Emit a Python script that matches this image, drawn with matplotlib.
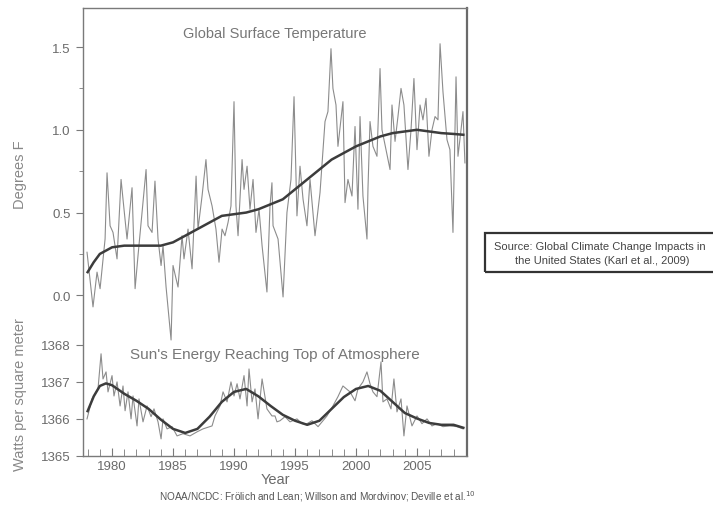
import numpy as np
import matplotlib
matplotlib.use("Agg")
import matplotlib.pyplot as plt
from matplotlib.patches import Rectangle
from matplotlib.ticker import FixedLocator

plt.rcParams['font.family'] = ['Liberation Sans', 'DejaVu Sans']

# Global surface temperature anomaly (deg F)
temp_years = [1977.95, 1978.44, 1978.77, 1979.02, 1979.43, 1979.59, 1979.84, 1980.08,
              1980.41, 1980.74, 1980.90, 1981.23, 1981.64, 1981.89, 1982.13, 1982.79,
              1982.95, 1983.28, 1983.52, 1983.77, 1984.02, 1984.18, 1984.43, 1984.84,
              1985.00, 1985.25, 1985.41, 1985.74, 1985.90, 1986.23, 1986.56, 1986.89,
              1987.05, 1987.38, 1987.70, 1987.87, 1988.20, 1988.52, 1988.77, 1989.02,
              1989.26, 1989.51, 1989.75, 1990.00, 1990.16, 1990.33, 1990.66, 1990.82,
              1991.07, 1991.31, 1991.56, 1991.80, 1992.05, 1992.30, 1992.70, 1992.95,
              1993.11, 1993.20, 1993.61, 1994.02, 1994.34, 1994.67, 1994.92, 1995.16,
              1995.41, 1995.66, 1995.98, 1996.23, 1996.64, 1997.05, 1997.46, 1997.70,
              1997.95, 1998.11, 1998.36, 1998.52, 1998.93, 1999.10, 1999.34, 1999.67,
              1999.92, 2000.16, 2000.33, 2000.57, 2000.90, 2000.98, 2001.15, 2001.39,
              2001.72, 2001.97, 2002.13, 2002.46, 2002.79, 2002.95, 2003.20, 2003.44,
              2003.69, 2003.93, 2004.26, 2004.51, 2004.75, 2005.00, 2005.25, 2005.49,
              2005.74, 2005.98, 2006.23, 2006.48, 2006.72, 2006.89, 2007.13, 2007.46,
              2007.70, 2007.95, 2008.20, 2008.36, 2008.61, 2008.77, 2008.93]
temp_vals = [0.26, -0.07, 0.14, 0.04, 0.34, 0.74, 0.42, 0.38,
             0.22, 0.70, 0.58, 0.34, 0.65, 0.04, 0.24, 0.76,
             0.42, 0.38, 0.69, 0.34, 0.18, 0.30, 0.05, -0.27,
             0.18, 0.10, 0.05, 0.36, 0.22, 0.40, 0.16, 0.72,
             0.40, 0.60, 0.82, 0.64, 0.54, 0.40, 0.20, 0.40,
             0.36, 0.44, 0.54, 1.17, 0.54, 0.36, 0.82, 0.64,
             0.78, 0.52, 0.70, 0.38, 0.52, 0.30, 0.02, 0.54,
             0.68, 0.42, 0.34, -0.01, 0.50, 0.70, 1.20, 0.48,
             0.78, 0.58, 0.42, 0.70, 0.36, 0.62, 1.05, 1.11,
             1.49, 1.25, 1.15, 0.90, 1.17, 0.56, 0.70, 0.60,
             1.02, 0.52, 1.08, 0.60, 0.34, 0.64, 1.05, 0.90,
             0.84, 1.37, 1.00, 0.88, 0.76, 1.15, 0.93, 1.08,
             1.25, 1.15, 0.76, 1.00, 1.31, 0.88, 1.15, 1.06,
             1.19, 0.84, 1.00, 1.08, 1.06, 1.52, 1.23, 0.94,
             0.88, 0.38, 1.32, 0.84, 1.00, 1.11, 0.80]

# smoothed temperature curve
temp_smooth_years = [1978.0, 1978.5, 1979, 1980, 1981, 1982, 1983, 1984, 1985, 1986,
                     1987, 1988, 1989, 1990, 1991, 1992, 1993, 1994, 1995, 1996,
                     1997, 1998, 1999, 2000, 2001, 2002, 2003, 2004, 2005, 2006,
                     2007, 2008, 2008.8]
temp_smooth = [0.14, 0.20, 0.25, 0.29, 0.30, 0.30, 0.30, 0.30, 0.32, 0.36,
               0.40, 0.44, 0.48, 0.49, 0.50, 0.52, 0.55, 0.58, 0.64, 0.70,
               0.76, 0.82, 0.86, 0.90, 0.93, 0.96, 0.98, 0.99, 1.00, 0.99,
               0.98, 0.975, 0.97]

# Sun's energy (W/m^2)
sun_years = [1977.95, 1978.36, 1978.85, 1979.10, 1979.26, 1979.51, 1979.67, 1980.00,
             1980.16, 1980.41, 1980.66, 1980.90, 1981.07, 1981.31, 1981.56, 1981.72,
             1982.05, 1982.21, 1982.54, 1982.87, 1983.20, 1983.44, 1983.77, 1984.02,
             1984.18, 1984.51, 1984.92, 1985.33, 1985.82, 1986.39, 1986.97, 1987.46,
             1988.20, 1988.44, 1988.85, 1989.10, 1989.43, 1989.75, 1990.00, 1990.25,
             1990.49, 1990.82, 1991.07, 1991.23, 1991.48, 1991.72, 1991.97, 1992.30,
             1992.70, 1993.11, 1993.36, 1993.52, 1993.77, 1994.18, 1994.59, 1995.16,
             1995.57, 1995.98, 1996.39, 1996.89, 1997.62, 1998.11, 1998.52, 1998.93,
             1999.51, 1999.92, 2000.16, 2000.57, 2000.90, 2001.15, 2001.39, 2001.72,
             2002.05, 2002.21, 2002.54, 2002.87, 2003.11, 2003.36, 2003.69, 2003.93,
             2004.18, 2004.59, 2005.00, 2005.41, 2005.82, 2006.23, 2006.64, 2007.13,
             2007.70, 2008.28, 2008.77]
sun_vals = [1365.99, 1366.53, 1366.80, 1367.75, 1367.07, 1367.26, 1366.72, 1367.16,
            1366.61, 1366.99, 1366.34, 1366.88, 1366.21, 1366.72, 1365.99, 1366.61,
            1365.80, 1366.53, 1365.91, 1366.34, 1366.05, 1366.26, 1365.91, 1365.45,
            1365.99, 1365.72, 1365.78, 1365.53, 1365.59, 1365.53, 1365.64, 1365.72,
            1365.80, 1366.07, 1366.34, 1366.72, 1366.45, 1366.99, 1366.61, 1366.94,
            1366.53, 1367.16, 1366.34, 1367.34, 1366.45, 1366.80, 1365.99, 1367.07,
            1366.26, 1366.07, 1366.07, 1365.91, 1365.94, 1366.05, 1365.91, 1365.99,
            1365.86, 1365.86, 1365.94, 1365.78, 1366.07, 1366.34, 1366.59, 1366.88,
            1366.72, 1366.48, 1366.80, 1366.99, 1367.26, 1366.94, 1366.72, 1366.59,
            1367.53, 1366.45, 1366.53, 1366.26, 1367.07, 1366.18, 1366.53, 1365.53,
            1366.34, 1365.80, 1366.07, 1365.86, 1365.99, 1365.80, 1365.86, 1365.78,
            1365.80, 1365.78, 1365.72]

sun_smooth_years = [1978.0, 1978.5, 1979, 1979.5, 1980, 1981, 1982, 1983, 1984, 1985,
                    1986, 1987, 1988, 1989, 1990, 1991, 1992, 1993, 1994, 1995,
                    1996, 1997, 1998, 1999, 2000, 2001, 2002, 2003, 2004, 2005,
                    2006, 2007, 2008, 2008.8]
sun_smooth = [1366.2, 1366.6, 1366.88, 1366.95, 1366.9, 1366.67, 1366.48, 1366.26, 1365.97, 1365.72,
              1365.61, 1365.72, 1366.05, 1366.45, 1366.72, 1366.8, 1366.6, 1366.34, 1366.1, 1365.94,
              1365.83, 1365.94, 1366.26, 1366.58, 1366.8, 1366.88, 1366.75, 1366.45, 1366.15, 1366.0,
              1365.88, 1365.83, 1365.83, 1365.75]

year_ticks = [1980, 1985, 1990, 1995, 2000, 2005]
temp_ticks = [0.0, 0.5, 1.0, 1.5]
sun_ticks = [1365, 1366, 1367, 1368]

W, H = 713, 506
fig = plt.figure(figsize=(W / 100, H / 100), dpi=100)
rect = [83 / W, 1 - 456.5 / H, 384 / W, 447.5 / H]

frame_col = '#7a7a7a'
lab_col = '#6a6a6a'

# bottom panel (solar) carries the frame and the year axis
ax_s = fig.add_axes(rect)
ax_s.plot(sun_years, sun_vals, color='#8c8c8c', lw=0.8)
ax_s.plot(sun_smooth_years, sun_smooth, color='#3c3c3c', lw=1.8)
ax_s.set_xlim(1977.62, 2009.1)
ax_s.set_ylim(1365, 1377.1)
ax_s.set_yticks(sun_ticks)
ax_s.set_yticklabels([str(v) for v in sun_ticks])
ax_s.set_xticks(year_ticks)
ax_s.xaxis.set_minor_locator(FixedLocator(np.arange(1978, 2009)))
ax_s.tick_params(axis='x', which='both', direction='in', colors=frame_col,
                 labelcolor=lab_col, labelsize=9.5, pad=3)
ax_s.tick_params(axis='x', which='major', length=6)
ax_s.tick_params(axis='x', which='minor', length=5)
ax_s.tick_params(axis='y', direction='out', length=5, colors=frame_col,
                 labelcolor=lab_col, labelsize=9.5, pad=4)
for side in ['left', 'bottom', 'top']:
    ax_s.spines[side].set_color(frame_col)
    ax_s.spines[side].set_linewidth(1.0)
ax_s.spines['right'].set_color('#6a6a6a')
ax_s.spines['right'].set_linewidth(1.6)
ax_s.set_xlabel('Year', fontsize=10.5, color=lab_col, labelpad=0)

# top panel (temperature), same box
ax_t = fig.add_axes(rect, sharex=ax_s)
ax_t.patch.set_visible(False)
for s in ax_t.spines.values():
    s.set_visible(False)
ax_t.plot(temp_years, temp_vals, color='#8c8c8c', lw=0.8)
ax_t.plot(temp_smooth_years, temp_smooth, color='#3c3c3c', lw=1.8)
ax_t.set_ylim(-0.968, 1.736)
ax_t.set_yticks(temp_ticks)
ax_t.set_yticklabels(['0.0', '0.5', '1.0', '1.5'])
ax_t.yaxis.set_minor_locator(FixedLocator([0.25, 0.75, 1.25]))
ax_t.tick_params(axis='y', which='major', direction='out', length=5, colors=frame_col,
                 labelcolor=lab_col, labelsize=9.5, pad=4)
ax_t.tick_params(axis='y', which='minor', direction='out', length=3, colors=frame_col)
ax_t.tick_params(axis='x', which='both', bottom=False, labelbottom=False)

ax_t.text(0.5, 0.945, 'Global Surface Temperature', transform=ax_t.transAxes,
          ha='center', va='center', fontsize=10.5, color='#777777')
ax_t.text(0.5, 0.227, "Sun's Energy Reaching Top of Atmosphere", transform=ax_t.transAxes,
          ha='center', va='center', fontsize=11, color='#777777')

fig.text(20 / W, 1 - 175 / H, 'Degrees F', rotation=90, ha='center', va='center',
         fontsize=10.5, color='#888888')
fig.text(20 / W, 1 - 395 / H, 'Watts per square meter', rotation=90, ha='center',
         va='center', fontsize=10.5, color='#888888')

fig.text(317 / W, 1 - 497 / H,
         'NOAA/NCDC: Frölich and Lean; Willson and Mordvinov; Deville et al.$^{10}$',
         ha='center', va='center', fontsize=7.2, color='#555555')

# source box on the right, partly off the canvas
fig.patches.append(Rectangle((485 / W, 1 - 273 / H), 260 / W, 39 / H,
                             transform=fig.transFigure, fill=False,
                             edgecolor='#333333', lw=1.6))
fig.text(600 / W, 1 - 247 / H, 'Source: Global Climate Change Impacts in',
         ha='center', va='center', fontsize=8, color='#444444')
fig.text(602 / W, 1 - 261 / H, 'the United States (Karl et al., 2009)',
         ha='center', va='center', fontsize=8, color='#444444')

fig.savefig('out.png', dpi=100)
